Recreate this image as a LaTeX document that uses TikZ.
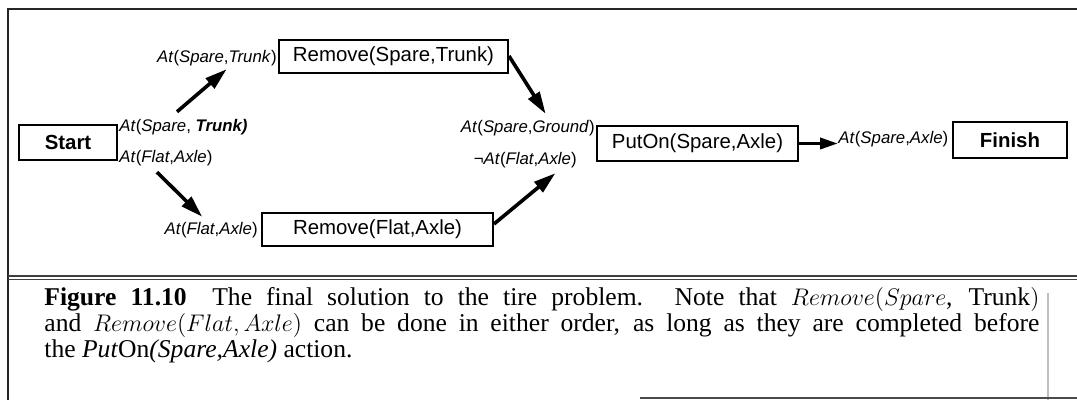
\documentclass[tikz,border=0pt]{standalone}
\usepackage{fontspec}
\setmainfont{Liberation Serif}
\setsansfont{Liberation Sans}
\usetikzlibrary{arrows.meta,calc}
\newcommand\pAt[2]{\textit{At}(\textit{#1},\textit{#2})}
\tikzset{
  box/.style={draw, line width=1pt, inner sep=0pt, font=\sffamily\fontsize{10.2}{12}\selectfont},
  lab/.style={inner sep=0pt, font=\sffamily\fontsize{8.4}{10}\selectfont},
  arr/.style={line width=1.8pt, -{Triangle[length=11pt,width=6.5pt]}},
  frameline/.style={line width=0.8pt, black!85},
  captxt/.style={inner sep=0pt, anchor=base west, font=\fontsize{12.8}{13}\selectfont}
}
\begin{document}
\begin{tikzpicture}[x=0.5pt,y=-0.5pt]
\useasboundingbox (0,0) rectangle (1077,400);
% frame
\draw[frameline] (8,400) -- (8,9) -- (1077,9);
\draw[line width=0.6pt, black!75] (8,276) -- (1077,276);
\draw[line width=0.6pt, black!75] (8,279.5) -- (1077,279.5);
\draw[line width=0.6pt, black!25] (1048,293) -- (1048,400);
\draw[line width=0.8pt, black!70] (640,398) -- (1077,398);

% nodes
\node[box, minimum width=49pt, minimum height=17.5pt] (start) at (68,142.5) {\bfseries Start};
\node[lab, anchor=west] (sEff1) at (119,127) {\textit{At}(\textit{Spare}, \textbf{\textit{Trunk)}}};
\node[lab, anchor=west] (sEff2) at (119,158) {\pAt{Flat}{Axle}};

\node[lab, anchor=east] (rstPre) at (277,58) {\pAt{Spare}{Trunk}};
\node[box, minimum width=114.5pt, minimum height=16.5pt] (rst) at (393.5,56.5) {Remove(Spare,Trunk)};

\node[lab, anchor=east] (rfaPre) at (258,230) {\pAt{Flat}{Axle}};
\node[box, minimum width=115.5pt, minimum height=16.5pt] (rfa) at (377.5,229.5) {Remove(Flat,Axle)};

\node[lab, anchor=east] (pPre1) at (595,128) {\pAt{Spare}{Ground}};
\node[lab, anchor=east] (pPre2) at (577,160) {¬\pAt{Flat}{Axle}};
\node[box, minimum width=100.5pt, minimum height=17.5pt] (put) at (697.5,143.5) {PutOn(Spare,Axle)};

\node[lab, anchor=west] (fPre) at (838,139) {\pAt{Spare}{Axle}};
\node[box, minimum width=57pt, minimum height=18pt] (fin) at (1010,140) {\bfseries Finish};

% connectors
\draw[arr] ($(sEff1.north west)+(58,-7)$) -- ($(rstPre.south west)+(70,3)$);
\draw[arr] ($(rst.north east)+(0,17)$) -- ($(pPre1.north west)+(85,-6)$);
\draw[arr] ($(sEff2.south west)+(38,6)$) -- ($(rfaPre.north west)+(38,-5)$);
\draw[arr] ($(rfa.north east)+(0,12)$) -- ($(pPre2.south west)+(82,5)$);
\draw[line width=1.8pt, -{Triangle[length=9pt,width=5.5pt]}] (put.east) -- (put.east -| fPre.west);

% caption
\node[captxt] (cap1) at (44,306) {\makebox[497.5pt][s]{\textbf{Figure 11.10}\quad The final solution to the tire problem. Note that $Remove($$Spare$, Trunk$)$}};
\node[captxt] (cap2) at (44,332) {\makebox[497.5pt][s]{and $Remove(Flat, Axle)$ can be done in either order, as long as they are completed before}};
\node[captxt] (cap3) at (44,358) {the \textit{Put}On\textit{(Spare,Axle)} action.};
\end{tikzpicture}
\end{document}
